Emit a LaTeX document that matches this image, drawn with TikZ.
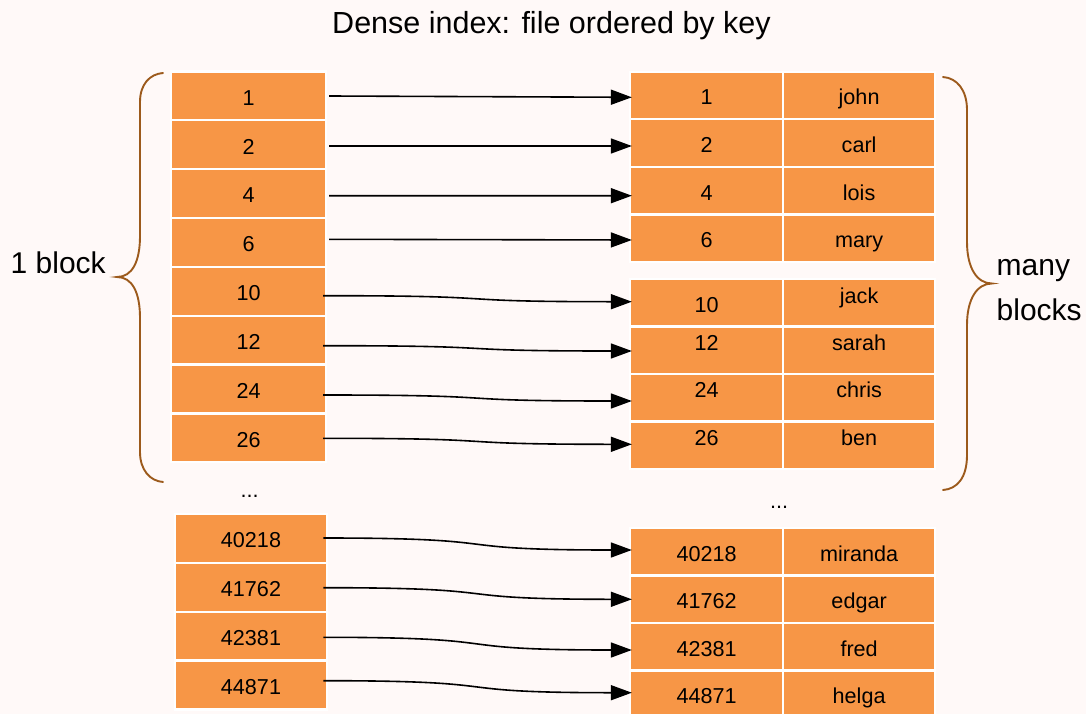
\documentclass[tikz,border=0pt]{standalone}
\usepackage{fontspec}
\setmainfont{Liberation Sans}
\usetikzlibrary{arrows.meta}
\definecolor{bgpink}{RGB}{255,249,248}
\definecolor{cellorange}{RGB}{247,150,70}
\definecolor{bracebrown}{RGB}{156,90,28}
\begin{document}
\begin{tikzpicture}[x=1pt,y=-1pt,
  cellfont/.style={font=\fontsize{21.6}{26}\selectfont},
  bigfont/.style={font=\fontsize{30}{36}\selectfont},
  titlefont/.style={font=\fontsize{30.5}{36}\selectfont},
  cell/.style={draw=white, line width=2.3pt, fill=cellorange, inner sep=0pt,
    text height=18.8pt, text depth=0pt, cellfont},
  lcell/.style={cell, minimum width=155.1pt, minimum height=48.85pt},
  lcellb/.style={cell, minimum width=152.3pt, minimum height=48.9pt},
  kcell/.style={cell, minimum width=153.1pt},
  vcell/.style={cell, minimum width=151.85pt},
  midtext/.style={text height=15pt, text depth=15pt},
  arr/.style={line width=1.6pt, -{Triangle[length=21pt,width=15pt]}},
  brace/.style={draw=bracebrown, line width=1.9pt, line cap=round}]
\useasboundingbox (0,0) rectangle (1086,714);
\fill[bgpink] (0,0) rectangle (1086,714);

% title and side labels
\node[titlefont, anchor=base, inner sep=0pt] (title) at (551.5,33.3) {Dense index: file ordered by key};
\node[bigfont, anchor=base west, inner sep=0pt] (oneblock) at (10.5,273.3) {1 block};
\node[bigfont, anchor=base west, inner sep=0pt] (many) at (996.5,275) {many};
\node[bigfont, anchor=base west, inner sep=0pt] (blocks) at (996.5,320) {blocks};

% left index (first block)
\node[lcell] (l1)  at (248.7,95.9)   {1};
\node[lcell] (l2)  at (248.7,144.75) {2};
\node[lcell] (l4)  at (248.7,193.6)  {4};
\node[lcell] (l6)  at (248.7,242.45) {6};
\node[lcell] (l10) at (248.7,291.3)  {10};
\node[lcell] (l12) at (248.7,340.15) {12};
\node[lcell] (l24) at (248.7,389.0)  {24};
\node[lcell] (l26) at (248.7,437.85) {26};

\node[cellfont, anchor=base] (dotsl) at (249.7,497) {...};

% left index (last block)
\node[lcellb] (m1) at (251,538.3) {40218};
\node[lcellb] (m2) at (251,587.2) {41762};
\node[lcellb] (m3) at (251,636.1) {42381};
\node[lcellb] (m4) at (251,685.0) {44871};

% data file, block 1
\node[kcell, minimum height=47.65pt] (r1k) at (706.6,95.5)   {1};
\node[vcell, minimum height=47.65pt] (r1v) at (859.1,95.5)   {john};
\node[kcell, minimum height=47.65pt] (r2k) at (706.6,143.15) {2};
\node[vcell, minimum height=47.65pt] (r2v) at (859.1,143.15) {carl};
\node[kcell, minimum height=47.65pt] (r4k) at (706.6,190.8)  {4};
\node[vcell, minimum height=47.65pt] (r4v) at (859.1,190.8)  {lois};
\node[kcell, minimum height=47.65pt] (r6k) at (706.6,238.45) {6};
\node[vcell, minimum height=47.65pt] (r6v) at (859.1,238.45) {mary};

% data file, block 2
\node[kcell, minimum height=47.5pt] (r10k) at (706.6,302.65) {10};
\node[vcell, minimum height=47.5pt, text height=17.4pt, text depth=16pt] (r10v) at (859.1,302.65) {jack};
\node[kcell, minimum height=47.5pt, midtext] (r12k) at (706.6,350.15) {12};
\node[vcell, minimum height=47.5pt, midtext] (r12v) at (859.1,350.15) {sarah};
\node[kcell, minimum height=47.5pt, midtext] (r24k) at (706.6,397.65) {24};
\node[vcell, minimum height=47.5pt, midtext] (r24v) at (859.1,397.65) {chris};
\node[kcell, minimum height=47.5pt, midtext] (r26k) at (706.6,445.15) {26};
\node[vcell, minimum height=47.5pt, midtext] (r26v) at (859.1,445.15) {ben};

\node[cellfont, anchor=base] (dotsr) at (779,508) {...};

% data file, last block
\node[kcell, minimum height=47.45pt] (s1k) at (706.6,551.9)  {40218};
\node[vcell, minimum height=47.45pt] (s1v) at (859.1,551.9)  {miranda};
\node[kcell, minimum height=47.45pt] (s2k) at (706.6,599.35) {41762};
\node[vcell, minimum height=47.45pt] (s2v) at (859.1,599.35) {edgar};
\node[kcell, minimum height=47.45pt] (s3k) at (706.6,646.8)  {42381};
\node[vcell, minimum height=47.45pt] (s3v) at (859.1,646.8)  {fred};
\node[kcell, minimum height=47.45pt] (s4k) at (706.6,694.25) {44871};
\node[vcell, minimum height=47.45pt] (s4v) at (859.1,694.25) {helga};

% pointers
\draw[arr] ([shift={(1.75,0.1)}]l1.east) -- ([shift={(2.95,1.8)}]r1k.west);
\draw[arr] ([shift={(1.75,1.25)}]l2.east) -- ([shift={(2.95,2.85)}]r2k.west);
\draw[arr] ([shift={(1.75,2.1)}]l4.east) -- ([shift={(2.95,4.9)}]r4k.west);
\draw[arr] ([shift={(1.75,-3.15)}]l6.east) -- ([shift={(2.95,1.55)}]r6k.west);

\draw[arr] ([shift={(-4.25,4.4)}]l10.east) .. controls +(200,0) and +(-200,0) .. ([shift={(2.95,-0.95)}]r10k.west);
\draw[arr] ([shift={(-4.25,5.55)}]l12.east) .. controls +(200,0) and +(-200,0) .. ([shift={(2.95,0.85)}]r12k.west);
\draw[arr] ([shift={(-4.25,6)}]l24.east) .. controls +(200,0) and +(-200,0) .. ([shift={(2.95,3.35)}]r24k.west);
\draw[arr] ([shift={(-4.25,0.45)}]l26.east) .. controls +(200,0) and +(-200,0) .. ([shift={(2.95,-0.85)}]r26k.west);

\draw[arr] ([shift={(-4.85,-0.3)}]m1.east) .. controls +(200,0) and +(-200,0) .. ([shift={(2.95,-1.9)}]s1k.west);
\draw[arr] ([shift={(-4.85,0.5)}]m2.east) .. controls +(200,0) and +(-200,0) .. ([shift={(2.95,-0.05)}]s2k.west);
\draw[arr] ([shift={(-4.85,1.2)}]m3.east) .. controls +(200,0) and +(-200,0) .. ([shift={(2.95,3.2)}]s3k.west);
\draw[arr] ([shift={(-4.85,-4.3)}]m4.east) .. controls +(200,0) and +(-200,0) .. ([shift={(2.95,-1.55)}]s4k.west);

% braces
\draw[brace] (163,73) .. controls (150,74) and (140,84) .. (140,102)
  -- (140,236) .. controls (140,262) and (132,277) .. (117,277)
  .. controls (132,277) and (140,292) .. (140,318)
  -- (140,452) .. controls (140,470) and (150,481) .. (163,482);
\draw[brace] (943,77) .. controls (957,78) and (967,90) .. (967,110)
  -- (967,242) .. controls (967,268) and (977,283.5) .. (992,283.5)
  .. controls (977,283.5) and (967,299) .. (967,325)
  -- (967,455) .. controls (967,478) and (957,489) .. (943,490);
\end{tikzpicture}
\end{document}
